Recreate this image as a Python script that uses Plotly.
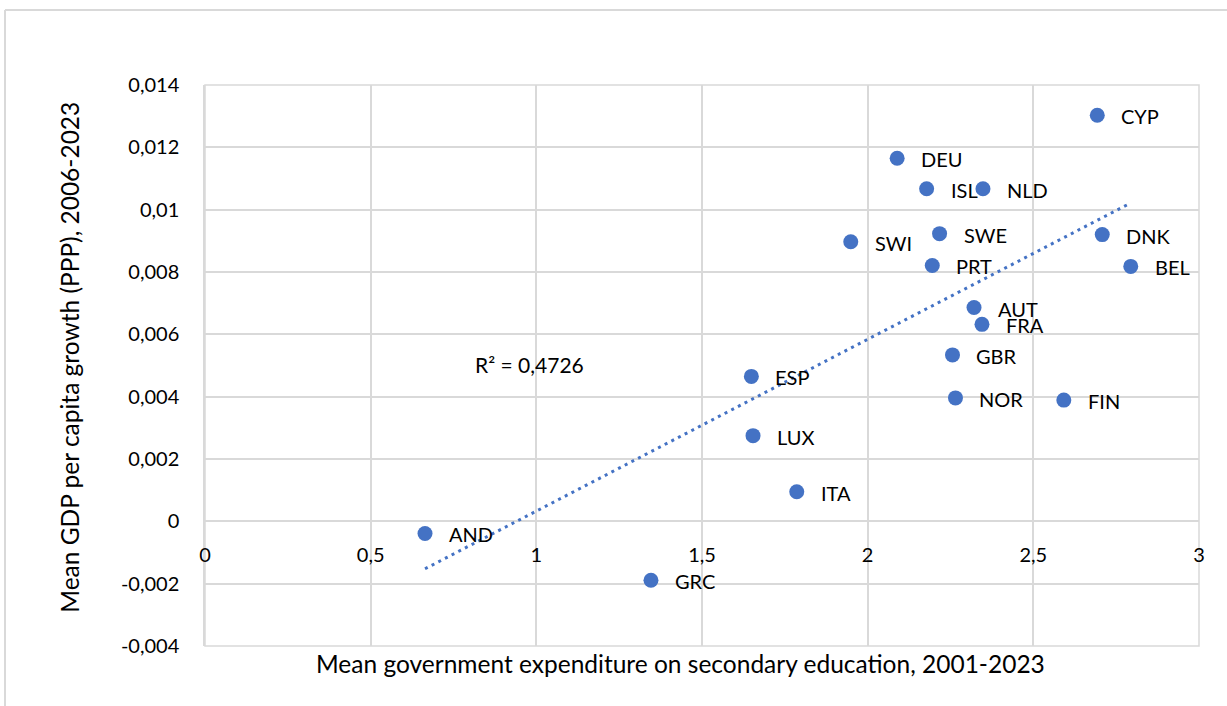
import numpy as np
import plotly.graph_objects as go

# ---- data ----
countries = ["CYP", "DEU", "ISL", "NLD", "SWI", "SWE", "DNK", "PRT", "BEL", "AUT",
             "FRA", "GBR", "ESP", "NOR", "FIN", "LUX", "ITA", "AND", "GRC"]
edu_spend = [2.693, 2.089, 2.178, 2.348, 1.949, 2.217, 2.708, 2.195, 2.794, 2.321,
             2.345, 2.256, 1.649, 2.265, 2.592, 1.654, 1.786, 0.664, 1.346]
gdp_growth = [0.01303, 0.01165, 0.01067, 0.01067, 0.00897, 0.00923, 0.00920, 0.00821, 0.00818, 0.00686,
              0.00632, 0.00534, 0.00465, 0.00396, 0.00389, 0.00275, 0.00095, -0.00039, -0.00189]

x_tick_vals = [0, 0.5, 1, 1.5, 2, 2.5, 3]
x_tick_text = ["0", "0,5", "1", "1,5", "2", "2,5", "3"]
y_tick_vals = [-0.004, -0.002, 0, 0.002, 0.004, 0.006, 0.008, 0.010, 0.012, 0.014]
y_tick_text = ["-0,004", "-0,002", "0", "0,002", "0,004", "0,006", "0,008", "0,01", "0,012", "0,014"]

x_title = "Mean government expenditure on secondary education, 2001-2023"
y_title = "Mean GDP per capita growth (PPP), 2006-2023"
r2_text = "R² = 0,4726"

# ---- linear trend (least squares over the data) ----
xa = np.array(edu_spend)
ya = np.array(gdp_growth)
slope, intercept = np.polyfit(xa, ya, 1)
trend_x = [float(xa.min()), float(xa.max())]
trend_y = [slope * v + intercept for v in trend_x]

BLUE = "#4472C4"
FONT = "Lato"
GRID = "#D9D9D9"

fig = go.Figure()
fig.add_trace(go.Scatter(
    x=trend_x, y=trend_y, mode="lines",
    line=dict(color=BLUE, width=3, dash="3px,4.5px"),
    hoverinfo="skip", showlegend=False,
))
fig.add_trace(go.Scatter(
    x=edu_spend, y=gdp_growth, mode="markers",
    marker=dict(color=BLUE, size=15),
    text=countries, showlegend=False,
))

annotations = []
for name, xv, yv in zip(countries, edu_spend, gdp_growth):
    annotations.append(dict(
        x=xv, y=yv, xref="x", yref="y", text=name, showarrow=False,
        xanchor="left", yanchor="middle", xshift=22, yshift=-1,
        font=dict(family=FONT, size=20, color="#000000"),
    ))

annotations.append(dict(
    x=0.98, y=0.00502, xref="x", yref="y", text=r2_text, showarrow=False,
    xanchor="center", yanchor="middle",
    font=dict(family=FONT, size=21, color="#000000"),
))
annotations.append(dict(
    x=0.4786, y=-0.031, xref="paper", yref="paper", text=x_title, showarrow=False,
    xanchor="center", yanchor="middle",
    font=dict(family=FONT, size=24.5, color="#000000"),
))
annotations.append(dict(
    x=-0.1364, y=0.5146, xref="paper", yref="paper", text=y_title, showarrow=False,
    xanchor="center", yanchor="middle", textangle=-90,
    font=dict(family=FONT, size=24.5, color="#000000"),
))

zero_pos = (0 - (-0.004)) / (0.014 - (-0.004))

fig.update_layout(
    width=1227, height=706,
    margin=dict(l=205, r=28, t=85, b=60),
    paper_bgcolor="white", plot_bgcolor="white",
    font=dict(family=FONT, size=20, color="#000000"),
    annotations=annotations,
    shapes=[
        dict(type="line", xref="paper", yref="paper",
             x0=(5 - 205) / 994, x1=(1240 - 205) / 994,
             y0=(646 - 10) / 561, y1=(646 - 10) / 561,
             line=dict(color=GRID, width=2)),
        dict(type="line", xref="paper", yref="paper",
             x0=(5 - 205) / 994, x1=(5 - 205) / 994,
             y0=(646 - 10) / 561, y1=(646 - 720) / 561,
             line=dict(color=GRID, width=2)),
    ],
    xaxis=dict(
        range=[0, 3], tickvals=x_tick_vals, ticktext=x_tick_text,
        showgrid=True, gridcolor=GRID, gridwidth=1.5,
        zeroline=False, showline=False,
        anchor="free", position=zero_pos,
        ticks="outside", ticklen=16, tickcolor="rgba(0,0,0,0)",
        tickfont=dict(family=FONT, size=20, color="#000000"),
        fixedrange=True,
    ),
    yaxis=dict(
        range=[-0.004, 0.014], tickvals=y_tick_vals, ticktext=y_tick_text,
        showgrid=True, gridcolor=GRID, gridwidth=1.5,
        zeroline=False, showline=True, linecolor=GRID, linewidth=1.5,
        ticks="outside", ticklen=20, tickcolor="rgba(0,0,0,0)",
        tickfont=dict(family=FONT, size=20, color="#000000"),
        fixedrange=True,
    ),
)
fig.add_shape(type="rect", xref="paper", yref="paper", x0=0, x1=1, y0=0, y1=1,
              line=dict(color=GRID, width=1.5), layer="below")

fig.write_html("out.html")
